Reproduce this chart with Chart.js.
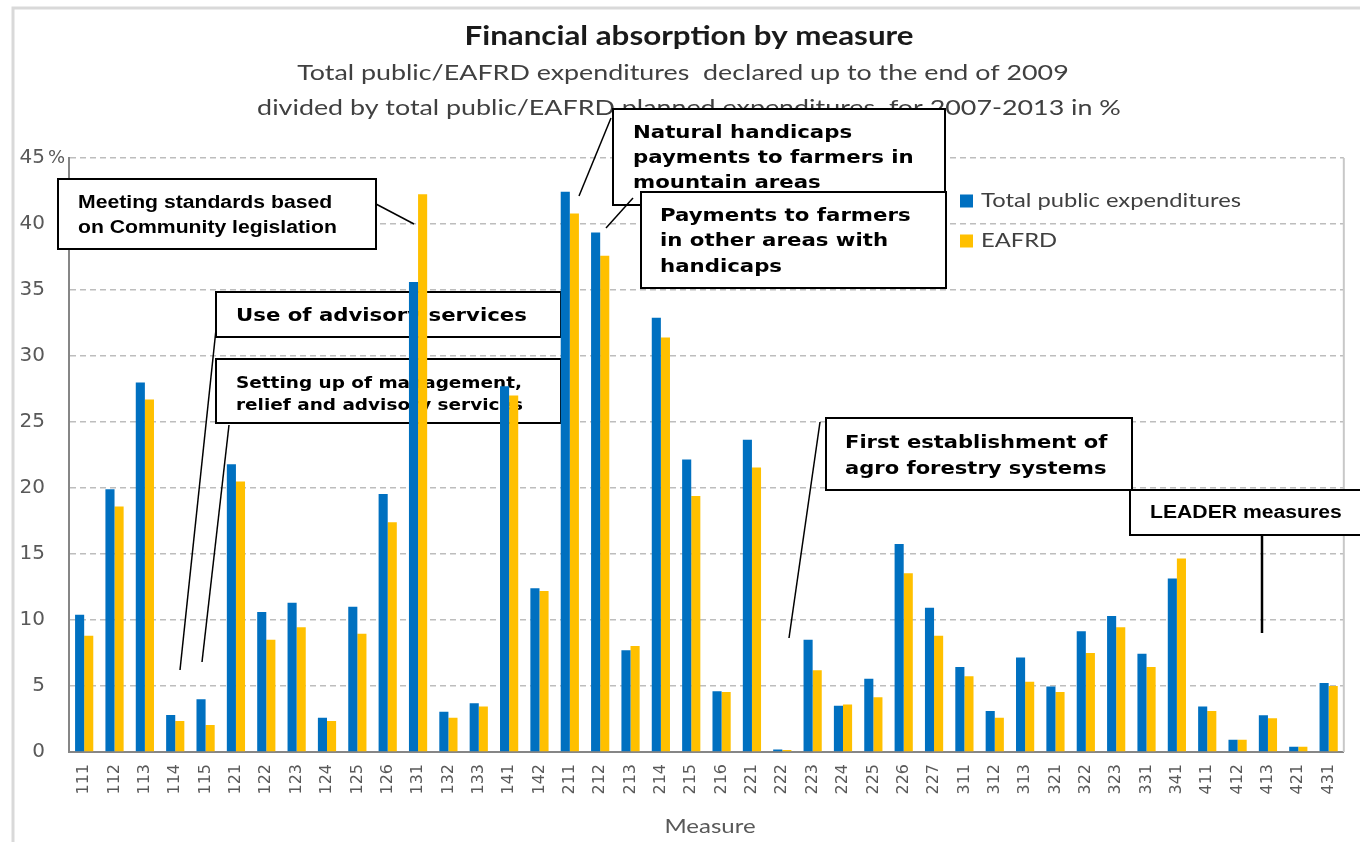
<!DOCTYPE html>
<html>
<head>
<meta charset="utf-8">
<script src="https://cdn.jsdelivr.net/npm/chart.js@4/dist/chart.umd.min.js"></script>
<style>
html,body{margin:0;padding:0;background:#fff;}
#wrap{width:1360px;height:842px;position:relative;}
</style>
</head>
<body>
<div id="wrap"><canvas id="c" width="1360" height="842"></canvas></div>
<script>
const categories = ['111','112','113','114','115','121','122','123','124','125','126','131','132','133','141','142','211','212','213','214','215','216','221','222','223','224','225','226','227','311','312','313','321','322','323','331','341','411','412','413','421','431'];
const totalPublic = [10.4,19.9,28.0,2.8,4.0,21.8,10.6,11.3,2.6,11.0,19.55,35.6,3.05,3.7,27.7,12.4,42.45,39.35,7.7,32.9,22.15,4.6,23.65,0.18,8.5,3.5,5.55,15.75,10.93,6.44,3.1,7.15,4.97,9.14,10.3,7.45,13.15,3.45,0.93,2.78,0.4,5.23];
const eafrd = [8.8,18.6,26.7,2.35,2.05,20.5,8.5,9.45,2.35,8.96,17.4,42.25,2.6,3.45,27.0,12.2,40.8,37.6,8.03,31.4,19.4,4.55,21.55,0.15,6.2,3.6,4.15,13.55,8.8,5.73,2.6,5.33,4.55,7.5,9.45,6.44,14.65,3.1,0.93,2.55,0.4,5.0];
const seriesNames = ['Total public expenditures','EAFRD'];
const titleText = 'Financial absorption by measure';
const subtitleLines = ['Total public/EAFRD expenditures  declared up to the end of 2009','divided by total public/EAFRD planned expenditures  for 2007-2013 in %'];
const xTitle = 'Measure';

const BLUE = '#0070C0', YELLOW = '#FFC000';
const DV = '"DejaVu Sans"', LS = '"Liberation Sans"';

const notes = [
  {box:[58,179,318,70], font:'bold 17.5px '+LS, sx:1.21, x:78, lines:[['Meeting standards based',203],['on Community legislation',228]], lead:[376,204,414,224]},
  {box:[216,292,345,45], font:'bold 18px '+DV, sx:1.18, x:236, lines:[['Use of advisory services',316]], lead:[217,320,180,670]},
  {box:[216,359,345,64], font:'bold 15.5px '+DV, sx:1.19, x:236, lines:[['Setting up of management,',384],['relief and advisory services',406]], lead:[229,425,202,662]},
  {box:[613,109,332,96], font:'bold 18.5px '+DV, sx:1.15, x:633, lines:[['Natural handicaps',133],['payments to farmers in',158],['mountain areas',183]], lead:[611,118,579,196]},
  {box:[641,192,305,96], font:'bold 18.5px '+DV, sx:1.15, x:660, lines:[['Payments to farmers',216],['in other areas with',241],['handicaps',267]], lead:[633,198,606,228]},
  {box:[826,418,306,72], font:'bold 18px '+DV, sx:1.17, x:845, lines:[['First establishment of',443],['agro forestry systems',469]], lead:[820,422,789,638]},
  {box:[1130,490,240,45], font:'bold 17.5px '+LS, sx:1.21, x:1150, lines:[['LEADER measures',513]], lead:[1262,535,1262,633], leadW:2.5}
];

function txt(ctx, s, x, y, sx, align){
  ctx.save();
  ctx.translate(x, y); ctx.scale(sx, 1);
  ctx.textAlign = align || 'left'; ctx.textBaseline = 'middle';
  ctx.fillText(s, 0, 0);
  ctx.restore();
}

const decor = {
  id:'decor',
  beforeDraw(chart){
    const ctx = chart.ctx;
    ctx.save();
    ctx.fillStyle='#fff'; ctx.fillRect(0,0,chart.width,chart.height);
    ctx.strokeStyle='#d9d9d9'; ctx.lineWidth=3;
    ctx.beginPath(); ctx.moveTo(13,842); ctx.lineTo(13,8); ctx.lineTo(1360,8); ctx.stroke();
    ctx.fillStyle='#1a1a1a'; ctx.font='bold 27px Lato';
    txt(ctx, titleText, 689, 36, 1.16, 'center');
    ctx.fillStyle='#404040'; ctx.font='22px Lato';
    txt(ctx, subtitleLines[0], 683, 73, 1.22, 'center');
    txt(ctx, subtitleLines[1], 689, 108, 1.22, 'center');
    ctx.fillStyle='#595959'; ctx.font='20px Lato';
    txt(ctx, xTitle, 710, 827, 1.2, 'center');
    ctx.restore();
  },
  beforeDatasetsDraw(chart){
    const ctx = chart.ctx, a = chart.chartArea;
    ctx.save();
    ctx.strokeStyle='#c8c8c8'; ctx.lineWidth=2;
    ctx.beginPath(); ctx.moveTo(a.right, a.top); ctx.lineTo(a.right, a.bottom); ctx.stroke();
    notes.forEach(n=>{
      ctx.strokeStyle='#000'; ctx.lineWidth=n.leadW||1.5;
      ctx.beginPath(); ctx.moveTo(n.lead[0],n.lead[1]); ctx.lineTo(n.lead[2],n.lead[3]); ctx.stroke();
      ctx.fillStyle='#fff'; ctx.fillRect(n.box[0],n.box[1],n.box[2],n.box[3]);
      ctx.lineWidth=2; ctx.strokeRect(n.box[0],n.box[1],n.box[2],n.box[3]);
      ctx.fillStyle='#000'; ctx.font=n.font;
      n.lines.forEach(l=>txt(ctx, l[0], n.x, l[1], n.sx, 'left'));
    });
    ctx.restore();
  },
  afterDraw(chart){
    const ctx = chart.ctx;
    ctx.save();
    const ys = chart.scales.y;
    ctx.fillStyle='#595959'; ctx.font='18px '+DV;
    txt(ctx, '%', 48, ys.getPixelForValue(45), 1.0, 'left');
    const cols=[BLUE,YELLOW], ly=[201,241];
    ctx.font='19px Lato';
    seriesNames.forEach((s,i)=>{
      ctx.fillStyle=cols[i]; ctx.fillRect(960, ly[i]-6.5, 13, 13);
      ctx.fillStyle='#404040'; txt(ctx, s, 981, ly[i], 1.25, 'left');
    });
    ctx.restore();
  }
};

new Chart(document.getElementById('c'), {
  type:'bar',
  data:{
    labels:categories,
    datasets:[
      {label:seriesNames[0], data:totalPublic, backgroundColor:BLUE, categoryPercentage:0.6, barPercentage:1.0},
      {label:seriesNames[1], data:eafrd, backgroundColor:YELLOW, categoryPercentage:0.6, barPercentage:1.0}
    ]
  },
  options:{
    responsive:false, animation:false, devicePixelRatio:1,
    layout:{padding:{left:0, top:158, right:13, bottom:0}},
    plugins:{legend:{display:false}, title:{display:false}, tooltip:{enabled:false}},
    scales:{
      x:{
        grid:{display:false, drawTicks:false},
        border:{display:true, color:'#868686', width:2},
        ticks:{color:'#595959', font:{family:'DejaVu Sans', size:16}, minRotation:90, maxRotation:90, padding:12, autoSkip:false},
        title:{display:false},
        afterFit(s){ s.height = 90; }
      },
      y:{
        min:0, max:45,
        grid:{color:(c)=> c.tick && c.tick.value===0 ? 'rgba(0,0,0,0)' : '#bdbdbd', lineWidth:1.5, drawTicks:false},
        border:{display:true, color:'#868686', width:2, dash:[6,4]},
        ticks:{stepSize:5, color:'#595959', font:{family:'DejaVu Sans', size:20}, padding:24},
        afterFit(s){ s.width = 69; }
      }
    }
  },
  plugins:[decor]
});
</script>
</body>
</html>
